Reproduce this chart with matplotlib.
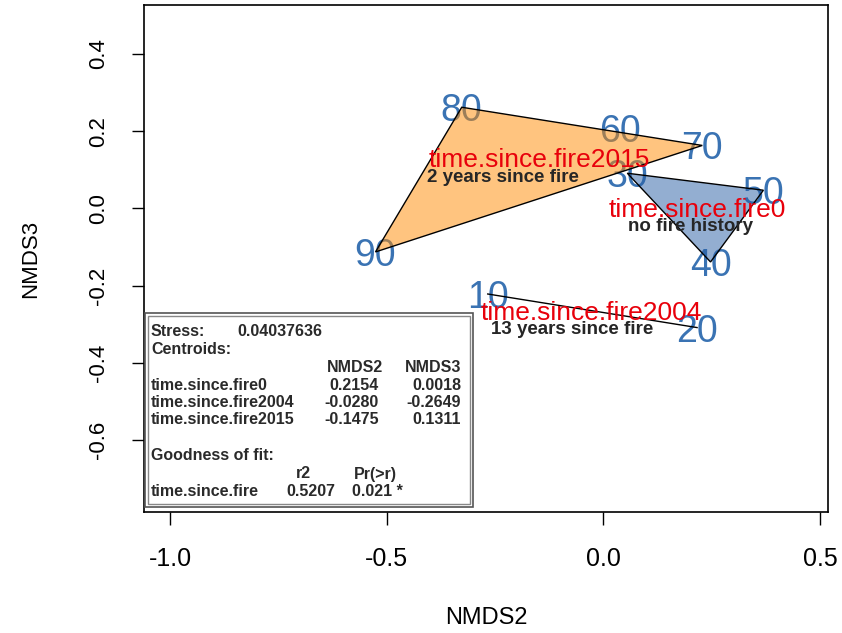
import matplotlib.pyplot as plt
from matplotlib.patches import Polygon, Rectangle

plt.rcParams['font.family'] = ['Liberation Sans', 'DejaVu Sans']

# site scores (NMDS2, NMDS3)
sites = ['10', '20', '30', '40', '50', '60', '70', '80', '90']
nmds2 = [-0.267, 0.216, 0.055, 0.247, 0.369, 0.039, 0.228, -0.327, -0.526]
nmds3 = [-0.222, -0.309, 0.091, -0.139, 0.047, 0.207, 0.163, 0.262, -0.113]

# hull members per group
hull_2015 = ['80', '70', '90']
hull_0 = ['30', '50', '40']
hull_2004 = ['10', '20']

groups = ['time.since.fire0', 'time.since.fire2004', 'time.since.fire2015']
group_desc = ['no fire history', '13 years since fire', '2 years since fire']
cent2 = [0.2154, -0.0280, -0.1475]
cent3 = [0.0018, -0.2649, 0.1311]

stress = 0.04037636
r2 = 0.5207
pval = 0.021

fig = plt.figure(figsize=(8.42, 6.33), dpi=100)
ax = fig.add_axes([144 / 842, 1 - 512 / 633, 684 / 842, 507 / 633])
ax.set_xlim(-1.06, 0.518)
ax.set_ylim(-0.787, 0.527)

pos = dict(zip(sites, zip(nmds2, nmds3)))

for s, x, y in zip(sites, nmds2, nmds3):
    ax.text(x, y, s, color='#3A73B3', fontsize=27, ha='center', va='center_baseline', zorder=1)

ax.add_patch(Polygon([pos[s] for s in hull_2015], closed=True, facecolor='#FF8A00',
                     alpha=0.5, edgecolor='none', zorder=2))
ax.add_patch(Polygon([pos[s] for s in hull_2015], closed=True, facecolor='none',
                     edgecolor='black', lw=1, zorder=3))
ax.add_patch(Polygon([pos[s] for s in hull_0], closed=True, facecolor='#285FA5',
                     alpha=0.5, edgecolor='none', zorder=2))
ax.add_patch(Polygon([pos[s] for s in hull_0], closed=True, facecolor='none',
                     edgecolor='black', lw=1, zorder=3))
ax.plot([pos[s][0] for s in hull_2004], [pos[s][1] for s in hull_2004],
        color='black', lw=1, zorder=3)

desc_dx = [-0.015, -0.045, -0.085]
for g, d, x, y, dx in zip(groups, group_desc, cent2, cent3, desc_dx):
    ax.text(x, y, g, color='#E8000B', fontsize=19, ha='center', va='center_baseline', zorder=4)
    ax.text(x + dx, y - 0.05, d, color='#262626', fontsize=13.5, fontweight='bold',
            ha='center', va='center', zorder=4)

ax.set_xticks([-1.0, -0.5, 0.0, 0.5])
ax.set_yticks([-0.6, -0.4, -0.2, 0.0, 0.2, 0.4])
ax.set_xticklabels(['-1.0', '-0.5', '0.0', '0.5'])
ax.set_yticklabels(['-0.6', '-0.4', '-0.2', '0.0', '0.2', '0.4'], rotation=90, va='center')
ax.tick_params(length=9, width=1)
ax.tick_params(axis='x', labelsize=18, pad=16)
ax.tick_params(axis='y', labelsize=16, pad=16)
ax.set_xlabel('NMDS2', fontsize=17, labelpad=26)
ax.set_ylabel('NMDS3', fontsize=16, labelpad=34)
for sp in ax.spines.values():
    sp.set_linewidth(1.2)

# summary box (pixel layout -> axes fraction)
def px(x, y):
    return ((x - 144) / 684, (512 - y) / 507)

x0, y0 = px(145, 507)
x1, y1 = px(473, 313)
ax.add_patch(Rectangle((x0, y0), x1 - x0, y1 - y0, transform=ax.transAxes,
                       facecolor='white', edgecolor='#555555', lw=1.2, zorder=5))
a0, b0 = px(148, 504)
a1, b1 = px(470, 316)
ax.add_patch(Rectangle((a0, b0), a1 - a0, b1 - b0, transform=ax.transAxes,
                       facecolor='none', edgecolor='#888888', lw=1, zorder=5))

fs = 11.5
tk = dict(transform=ax.transAxes, fontsize=fs, fontweight='bold', color='#2A2A2A',
          va='center', zorder=6)

def put(x, y, s, ha='left'):
    ax.text(*px(x, y), s, ha=ha, **tk)

put(151, 331, 'Stress:')
put(237, 331, f'{stress:.8f}')
put(151, 349, 'Centroids:')
put(355, 367, 'NMDS2', 'center')
put(433, 367, 'NMDS3', 'center')
for i, (g, a, b) in enumerate(zip(groups, cent2, cent3)):
    yy = 385 + i * 17.5
    put(151, yy, g)
    put(379, yy, f'{a:.4f}', 'right')
    put(461, yy, f'{b:.4f}', 'right')
put(151, 456, 'Goodness of fit:')
put(303, 474, 'r2', 'center')
put(375, 474, 'Pr(>r)', 'center')
put(151, 492, 'time.since.fire')
put(335, 492, f'{r2:.4f}', 'right')
put(352, 492, f'{pval:.3f} *')

fig.savefig('out.png', dpi=100)
